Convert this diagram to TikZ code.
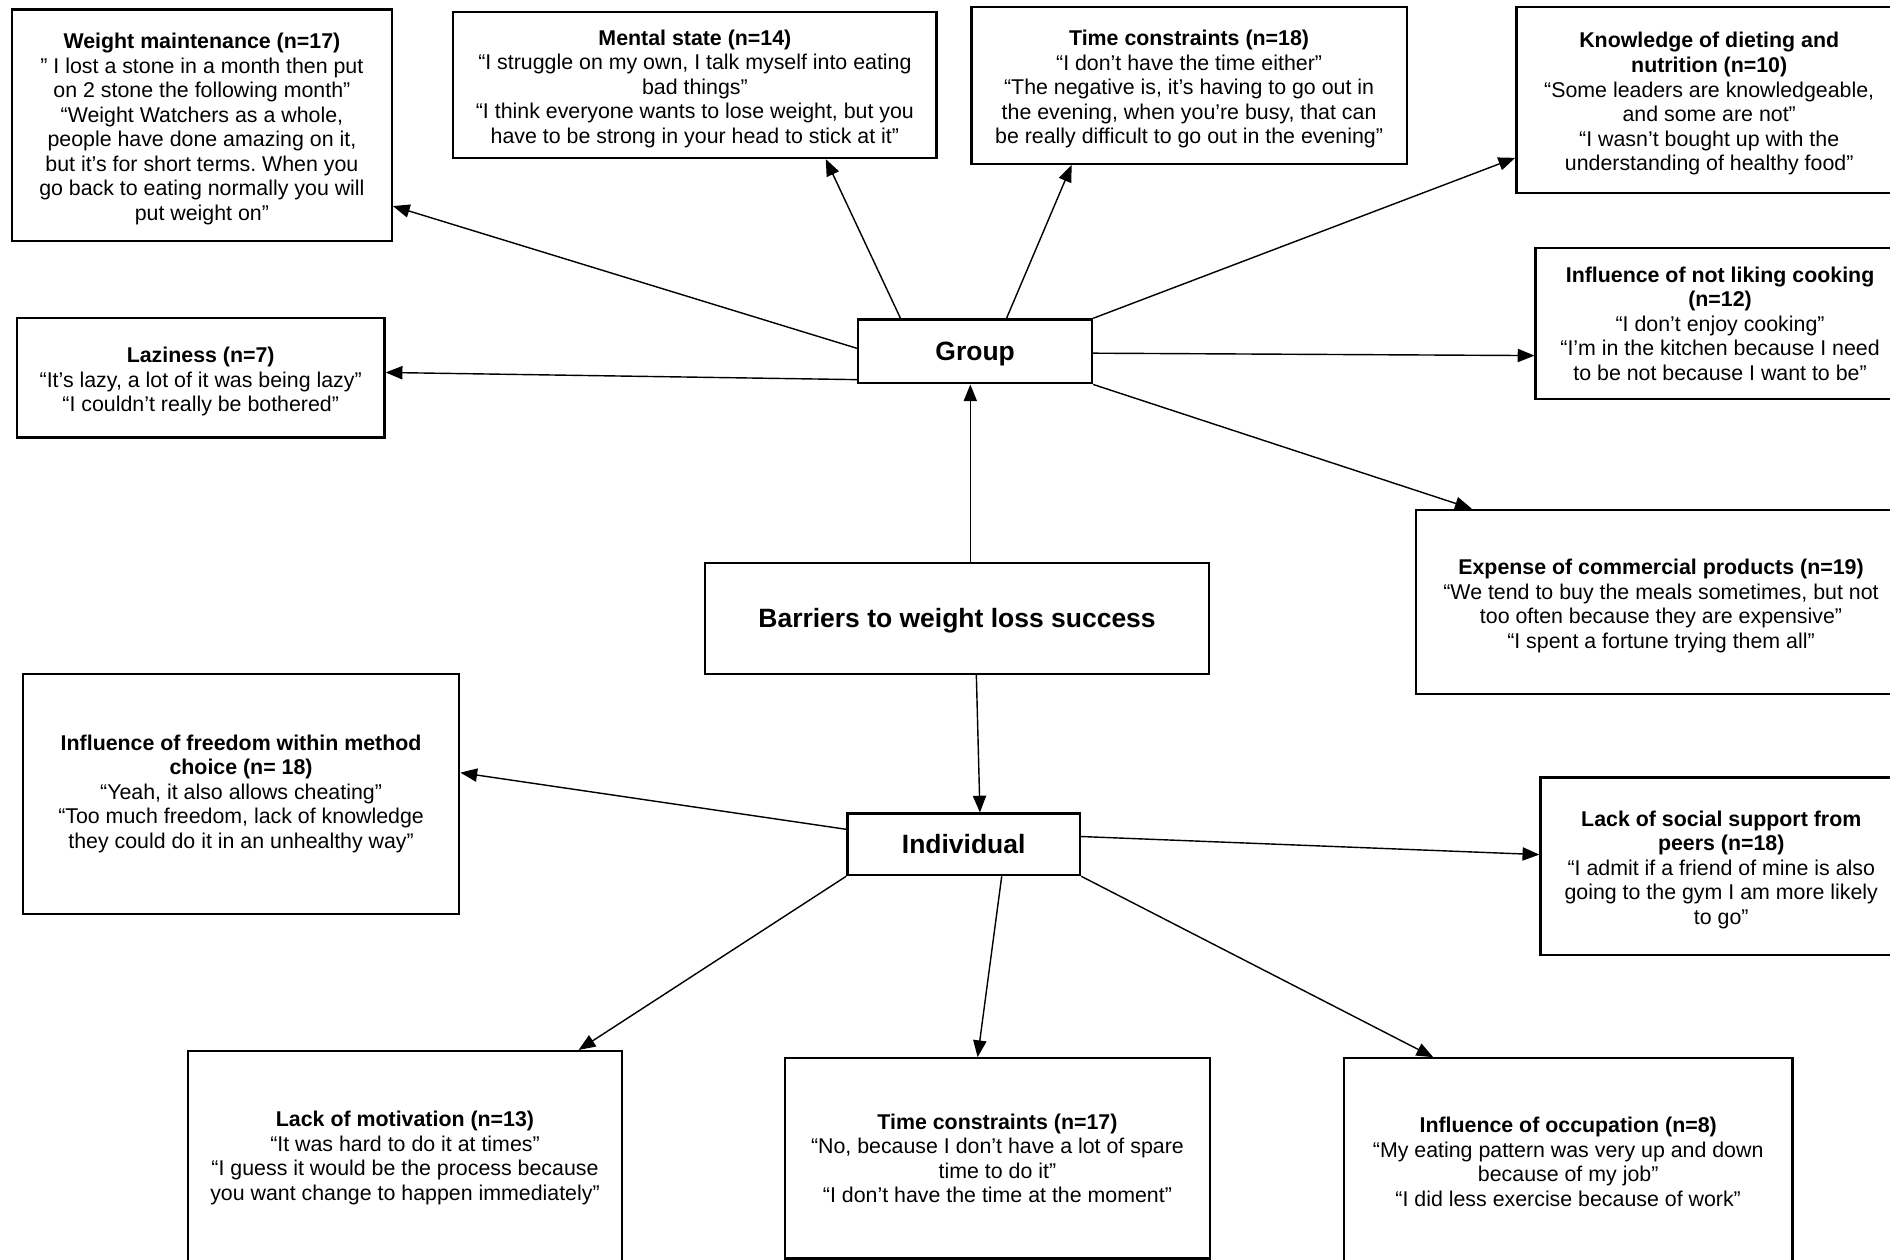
\documentclass[tikz,border=0pt]{standalone}
\usepackage{fontspec}
\setmainfont{Liberation Sans}
\usetikzlibrary{arrows.meta,calc}
\frenchspacing
\newcommand\dnr{\rule{0pt}{13pt}}
\tikzset{
  sz/.style 2 args={minimum width=#1*0.024cm, minimum height=#2*0.024cm},
  box/.style={draw, line width=1.3pt, align=center, inner sep=0pt,
    font=\fontsize{12.1}{13.9}\selectfont},
  hub/.style={draw, line width=1.3pt, align=center, inner sep=0pt,
    font=\fontsize{15}{18}\selectfont\bfseries},
  arr/.style={line width=0.8pt, -{Triangle[length=9.5pt,width=7.5pt]}}
}
\begin{document}
\begin{tikzpicture}[x=0.024cm, y=-0.024cm]
\useasboundingbox (0,0) rectangle (1568,1045);

\node[box, sz={315}{192}] (wm) at (167.5,104) {\dnr\textbf{Weight maintenance (n=17)}\\
” I lost a stone in a month then put\\
on 2 stone the following month”\\
“Weight Watchers as a whole,\\
people have done amazing on it,\\
but it’s for short terms. When you\\
go back to eating normally you will\\
put weight on”};

\node[box, sz={401}{121}] (ms) at (576.5,70.5) {\dnr\textbf{Mental state (n=14)}\\
“I struggle on my own, I talk myself into eating\\
bad things”\\
“I think everyone wants to lose weight, but you\\
have to be strong in your head to stick at it”};

\node[box, sz={361}{130}] (tc1) at (986.5,71) {\dnr\textbf{Time constraints (n=18)}\\
“I don’t have the time either”\\
“The negative is, it’s having to go out in\\
the evening, when you’re busy, that can\\
be really difficult to go out in the evening”};

\node[box, sz={320}{154}] (kn) at (1418,83) {\dnr\textbf{Knowledge of dieting and}\\
\textbf{nutrition (n=10)}\\
“Some leaders are knowledgeable,\\
and some are not”\\
“I wasn’t bought up with the\\
understanding of healthy food”};

\node[box, sz={306}{125}] (cook) at (1427,268.5) {\textbf{Influence of not liking cooking}\\
\textbf{(n=12)}\\
“I don’t enjoy cooking”\\
“I’m in the kitchen because I need\\
to be not because I want to be”};

\node[box, sz={305}{99}] (lz) at (166.5,313.5) {\dnr\textbf{Laziness (n=7)}\\
“It’s lazy, a lot of it was being lazy”\\
“I couldn’t really be bothered{\large”}};

\node[hub, sz={194}{53}] (grp) at (809,291.5) {\rule{0pt}{13.8pt}Group};

\node[hub, sz={418}{92}] (bar) at (794,513) {\rule{0pt}{13.8pt}Barriers to weight loss success};

\node[box, sz={406}{153}] (exp) at (1378,499.5) {\dnr\textbf{Expense of commercial products (n=19)}\\
“We tend to buy the meals sometimes, but not\\
too often because they are expensive”\\
“I spent a fortune trying them all”};

\node[box, sz={362}{199}] (fr) at (200,658.5) {\textbf{Influence of freedom within method}\\
\textbf{choice (n= 18)}\\
“Yeah, it also allows cheating”\\
“Too much freedom, lack of knowledge\\
they could do it in an unhealthy way{\large”}};

\node[hub, sz={193}{51}] (ind) at (799.5,700.5) {Individual};

\node[box, sz={300}{147}] (soc) at (1428,718.5) {\dnr\textbf{Lack of social support from}\\
\textbf{peers (n=18)}\\
“I admit if a friend of mine is also\\
going to the gym I am more likely\\
to go”};

\node[box, sz={360}{177}] (mot) at (336,960.5) {\textbf{Lack of motivation (n=13)}\\
“It was hard to do it at times”\\
“I guess it would be the process because\\
you want change to happen immediately”};

\node[box, sz={353}{166}] (tc2) at (827.5,961) {\textbf{Time constraints (n=17)}\\
“No, because I don’t have a lot of spare\\
time to do it”\\
“I don’t have the time at the moment”};

\node[box, sz={372}{172}] (occ) at (1301,964) {\textbf{Influence of occupation (n=8)}\\
“My eating pattern was very up and down\\
because of my job”\\
“I did less exercise because of work”};

% Group connectors
\draw[arr] ($(grp.west)+(0,-2.5)$) -- ($(wm.south east)+(0,-30)$);
\draw[arr] ($(grp.north west)+(36,0)$) -- ($(ms.south west)+(310,0)$);
\draw[arr] ($(grp.north west)+(124,0)$) -- ($(tc1.south west)+(84,0)$);
\draw[arr] (grp.north east) -- ($(kn.south west)+(0,-30)$);
\draw[arr] ($(grp.south west)+(0,-4)$) -- ($(lz.east)+(0,-4.5)$);
\draw[arr] ($(grp.east)+(0,1.5)$) -- ($(cook.west)+(0,26.5)$);
\draw[arr] (grp.south east) -- ($(exp.north west)+(47,0)$);
% Centre connectors
\draw[arr] ($(bar.north)+(11,0)$) -- ($(grp.south)+(-4,0)$);
\draw[arr] ($(bar.south)+(16,0)$) -- ($(ind.north)+(13.5,0)$);
% Individual connectors
\draw[arr] ($(ind.west)+(0,-12.5)$) -- ($(fr.east)+(0,-17.5)$);
\draw[arr] ($(ind.east)+(0,-6.5)$) -- ($(soc.west)+(0,-9.5)$);
\draw[arr] (ind.south west) -- ($(mot.north west)+(325,0)$);
\draw[arr] ($(ind.south west)+(129,0)$) -- ($(tc2.north west)+(161,0)$);
\draw[arr] (ind.south east) -- ($(occ.north west)+(75,0)$);
\end{tikzpicture}
\end{document}
